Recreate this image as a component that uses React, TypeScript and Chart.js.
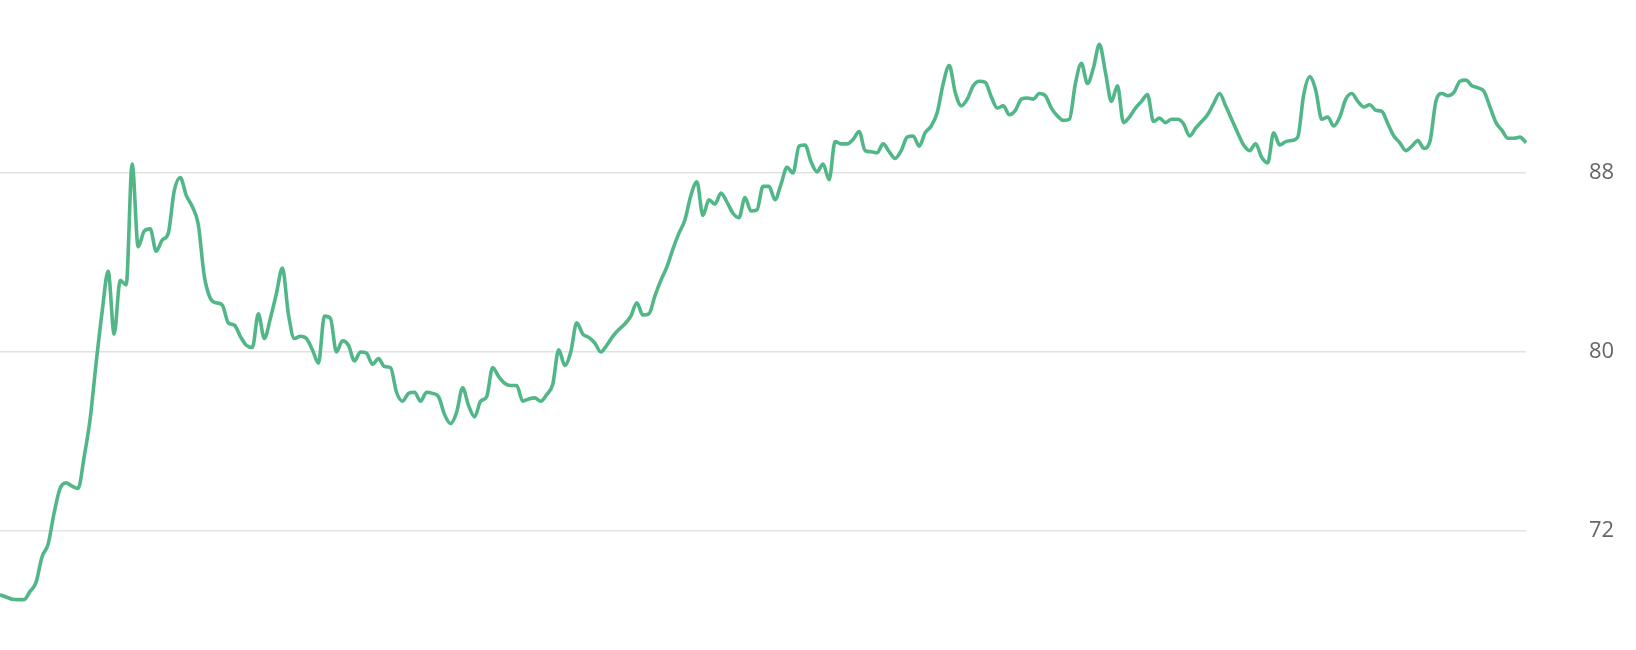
import React, { useEffect, useRef } from "react";
import { Chart, registerables } from "chart.js";

Chart.register(...registerables);

const values: number[] = [
  69.15, 69.05, 68.95, 68.93, 68.93, 69.3, 69.7, 70.85, 71.4, 72.8,
  73.9, 74.15, 74.0, 73.9, 75.3, 77.0, 79.5, 81.8, 83.6, 80.8,
  83.2, 83.0, 88.4, 84.7, 85.4, 85.5, 84.5, 85.0, 85.3, 87.2,
  87.8, 87.0, 86.5, 85.7, 83.4, 82.4, 82.2, 82.1, 81.3, 81.2,
  80.7, 80.3, 80.2, 81.7, 80.6, 81.5, 82.6, 83.75, 81.7, 80.6,
  80.7, 80.6, 80.1, 79.5, 81.6, 81.5, 80.0, 80.5, 80.3, 79.6,
  80.0, 79.95, 79.45, 79.7, 79.35, 79.3, 78.2, 77.8, 78.15, 78.2,
  77.8, 78.2, 78.15, 78.0, 77.2, 76.8, 77.3, 78.4, 77.6, 77.1,
  77.8, 78.0, 79.3, 78.9, 78.6, 78.5, 78.5, 77.8, 77.9, 77.95,
  77.8, 78.1, 78.55, 80.1, 79.4, 80.0, 81.3, 80.8, 80.65, 80.4,
  80.0, 80.3, 80.7, 81.0, 81.25, 81.6, 82.2, 81.65, 81.7, 82.5,
  83.2, 83.8, 84.6, 85.3, 85.9, 87.0, 87.6, 86.1, 86.8, 86.6,
  87.1, 86.7, 86.2, 86.0, 86.9, 86.3, 86.35, 87.4, 87.4, 86.8,
  87.5, 88.25, 88.0, 89.2, 89.25, 88.5, 88.05, 88.4, 87.7, 89.4,
  89.3, 89.3, 89.5, 89.85, 89.0, 88.95, 88.9, 89.3, 88.95, 88.65,
  89.0, 89.6, 89.65, 89.2, 89.8, 90.1, 90.7, 92.0, 92.8, 91.6,
  91.0, 91.3, 91.9, 92.1, 92.05, 91.4, 90.9, 91.0, 90.6, 90.8,
  91.3, 91.35, 91.3, 91.55, 91.45, 90.9, 90.55, 90.35, 90.4, 92.0,
  92.9, 92.0, 92.7, 93.75, 92.5, 91.2, 91.9, 90.25, 90.5, 90.9,
  91.2, 91.5, 90.3, 90.45, 90.25, 90.4, 90.4, 90.2, 89.65, 90.0,
  90.3, 90.6, 91.1, 91.55, 91.0, 90.4, 89.8, 89.25, 89.0, 89.3,
  88.7, 88.45, 89.8, 89.25, 89.4, 89.45, 89.6, 91.5, 92.3, 91.7,
  90.4, 90.5, 90.1, 90.5, 91.3, 91.55, 91.2, 90.95, 91.05, 90.8,
  90.75, 90.2, 89.65, 89.35, 89.0, 89.2, 89.45, 89.1, 89.4, 91.2,
  91.55, 91.45, 91.6, 92.1, 92.15, 91.9, 91.8, 91.65, 90.95, 90.25,
  89.9, 89.55, 89.55, 89.6, 89.35,
];

const categories: string[] = values.map((_, i) => `Day ${i + 1}`);

const yTicks: number[] = [72, 80, 88];
const yMin = 66.68;
const yMax = 95.73;

const LINE_COLOR = "#52b788";

export default function App() {
  const canvasRef = useRef<HTMLCanvasElement | null>(null);

  useEffect(() => {
    document.body.style.margin = "0";
    const canvas = canvasRef.current;
    if (!canvas) return;
    const chart = new Chart(canvas, {
      type: "line",
      data: {
        labels: categories,
        datasets: [
          {
            data: values,
            borderColor: LINE_COLOR,
            backgroundColor: LINE_COLOR,
            borderWidth: 3.6,
            pointRadius: 0,
            cubicInterpolationMode: "monotone",
            fill: false,
          },
        ],
      },
      options: {
        animation: false,
        responsive: false,
        maintainAspectRatio: false,
        layout: { padding: { left: 0, right: 0, top: 0, bottom: 0 } },
        plugins: {
          legend: { display: false },
          tooltip: { enabled: false },
        },
        scales: {
          x: {
            display: false,
            offset: false,
          },
          y: {
            position: "right",
            min: yMin,
            max: yMax,
            afterBuildTicks: (scale: any) => {
              scale.ticks = yTicks.map((v) => ({ value: v }));
            },
            afterFit: (scale: any) => {
              scale.paddingTop = 0;
              scale.paddingBottom = 0;
              scale.width = 110;
            },
            border: { display: false },
            grid: {
              color: "#e2e2e2",
              lineWidth: 1.6,
              drawTicks: true,
              tickLength: 60,
              tickColor: "rgba(0,0,0,0)",
            },
            ticks: {
              padding: 3,
              color: "#666666",
              font: { family: "'Open Sans', sans-serif", size: 22 },
            },
          },
        },
      },
    });
    return () => chart.destroy();
  }, []);

  return (
    <div style={{ width: 1636, height: 650 }}>
      <canvas ref={canvasRef} width={1636} height={650} style={{ display: "block", width: 1636, height: 650 }} />
    </div>
  );
}
